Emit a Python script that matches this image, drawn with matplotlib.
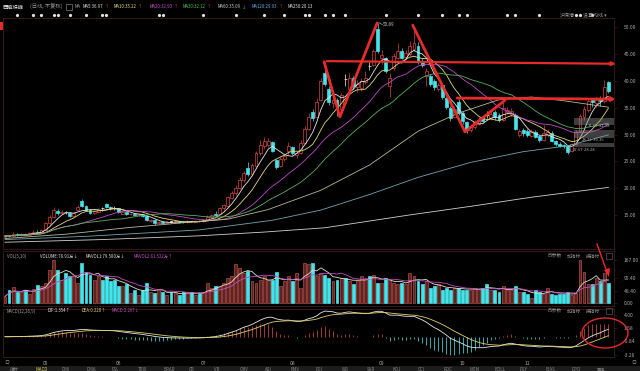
import numpy as np
import pandas as pd
import matplotlib
matplotlib.use("Agg")
import matplotlib.pyplot as plt
from matplotlib.patches import Rectangle, Ellipse

plt.rcParams['font.family'] = ['Noto Sans CJK SC', 'DejaVu Sans']

# daily candles, 2021-04-19 .. 2021-11-26
opens = [10.9, 11.1, 11.0, 11.4, 11.2, 11.5, 11.3, 11.6, 11.9, 11.8,
         12.2, 13.4, 14.6, 15.8, 15.3, 15.5, 15.4, 14.8, 16.0, 17.6,
         16.6, 16.0, 15.3, 15.6, 16.2, 17.0, 16.5, 16.3, 16.2, 15.2,
         15.5, 15.1, 15.2, 15.0, 15.1, 14.8, 13.9, 14.1, 13.4, 13.6,
         13.5, 13.7, 13.7, 13.8, 13.7, 13.6, 13.8, 13.7, 13.9, 13.8,
         14.1, 14.6, 15.2, 15.2, 16.2, 16.6, 18.2, 19.0, 20.0, 21.5,
         23.8, 22.6, 24.2, 26.5, 27.8, 28.0, 28.6, 25.2, 24.2, 25.4,
         27.0, 27.6, 26.2, 26.6, 28.4, 31.0, 34.2, 33.2, 36.5, 41.5,
         38.5, 35.8, 36.4, 34.8, 40.3, 38.5, 40.5, 38.8, 38.6, 39.8,
         42.7, 43.0, 49.6, 44.2, 44.2, 39.0, 42.5, 44.3, 45.6, 44.5,
         45.0, 46.0, 46.5, 43.8, 41.0, 41.0, 40.0, 38.5, 39.3, 36.8,
         35.0, 33.2, 36.0, 34.0, 32.3, 30.8, 31.4, 32.0, 33.2, 33.7,
         33.0, 34.2, 33.6, 32.8, 34.2, 33.8, 33.6, 30.0, 30.8, 30.6,
         29.8, 30.4, 29.8, 29.0, 30.0, 30.3, 28.8, 28.3, 28.0, 27.8,
         27.0, 28.3, 30.6, 33.2, 34.6, 36.4, 35.8, 36.4, 36.2, 39.8]
closes = [11.1, 11.0, 11.4, 11.2, 11.5, 11.3, 11.6, 11.9, 11.7, 12.2,
          13.4, 14.6, 15.9, 15.3, 15.6, 15.5, 14.8, 15.4, 16.5, 16.7,
          16.0, 15.3, 15.7, 16.0, 16.2, 16.5, 16.2, 16.3, 15.5, 15.5,
          15.1, 15.2, 15.0, 15.1, 14.8, 14.0, 14.1, 13.4, 13.6, 13.5,
          13.7, 13.7, 13.8, 13.7, 13.6, 13.8, 13.8, 13.9, 13.8, 14.1,
          14.6, 14.9, 14.9, 16.2, 16.8, 18.3, 19.0, 20.0, 21.6, 22.8,
          22.6, 24.3, 26.5, 28.0, 28.7, 28.8, 27.0, 24.0, 25.4, 26.0,
          27.8, 26.5, 26.6, 28.4, 31.0, 33.2, 33.0, 36.0, 40.0, 39.4,
          36.0, 36.5, 35.0, 37.3, 40.3, 40.5, 39.0, 39.5, 40.0, 40.6,
          42.7, 45.5, 45.6, 44.9, 41.8, 40.5, 44.6, 45.5, 44.3, 45.2,
          46.5, 47.0, 43.5, 43.0, 41.8, 39.5, 38.8, 39.2, 37.0, 35.2,
          33.0, 34.8, 34.0, 32.5, 30.8, 31.6, 32.3, 32.8, 32.6, 33.7,
          33.8, 33.2, 32.8, 35.0, 34.6, 34.4, 31.0, 30.6, 30.2, 29.9,
          30.6, 29.6, 29.0, 30.2, 30.4, 28.8, 28.2, 27.9, 27.8, 26.8,
          28.2, 30.5, 33.5, 34.8, 36.2, 36.0, 36.4, 36.2, 38.8, 38.2]
highs = [11.3, 11.3, 11.8, 11.6, 11.7, 11.7, 11.9, 12.1, 12.1, 12.4,
         13.6, 14.9, 16.5, 16.1, 16.0, 15.8, 15.5, 15.6, 16.8, 17.9,
         16.8, 16.1, 15.9, 16.2, 16.5, 17.3, 16.7, 16.6, 16.3, 15.7,
         15.6, 15.4, 15.3, 15.3, 15.2, 14.9, 14.3, 14.2, 13.8, 13.8,
         13.9, 13.9, 14.0, 13.9, 13.9, 14.0, 13.9, 14.1, 14.0, 14.3,
         14.9, 15.2, 15.7, 16.5, 17.1, 18.5, 19.5, 20.6, 22.0, 23.2,
         24.8, 24.6, 27.0, 29.0, 29.5, 29.3, 28.8, 25.5, 25.8, 26.4,
         28.6, 27.9, 27.0, 28.9, 31.5, 34.0, 34.8, 36.8, 40.6, 43.5,
         39.0, 37.4, 36.8, 37.8, 41.2, 41.5, 41.0, 40.2, 40.6, 41.8,
         43.5, 46.0, 50.89, 45.8, 44.5, 41.5, 45.2, 47.0, 46.2, 45.8,
         47.5, 49.9, 47.2, 44.2, 42.5, 41.3, 40.3, 39.6, 39.5, 37.0,
         35.3, 35.4, 36.6, 34.3, 32.6, 32.0, 32.8, 33.3, 33.6, 34.4,
         34.6, 34.6, 34.0, 36.8, 35.2, 35.0, 34.0, 31.0, 31.2, 31.0,
         31.0, 30.8, 30.0, 31.8, 31.0, 30.6, 29.0, 28.6, 28.3, 28.0,
         28.5, 30.8, 33.9, 35.4, 36.8, 36.9, 37.0, 37.2, 40.2, 40.0]
lows = [10.8, 10.9, 10.9, 11.0, 11.1, 11.2, 11.2, 11.5, 11.6, 11.7,
        12.1, 13.2, 14.4, 15.0, 15.1, 15.1, 14.6, 14.7, 15.9, 16.5,
        15.8, 15.1, 15.1, 15.4, 15.8, 16.3, 16.0, 16.0, 15.3, 15.1,
        15.0, 14.9, 14.9, 14.8, 14.6, 13.8, 13.6, 13.2, 13.3, 13.4,
        13.4, 13.5, 13.5, 13.5, 13.5, 13.5, 13.6, 13.6, 13.6, 13.7,
        14.0, 14.5, 14.8, 15.1, 16.0, 16.5, 18.0, 18.8, 19.8, 21.2,
        22.3, 22.3, 24.0, 26.2, 27.3, 27.6, 26.8, 23.6, 24.0, 25.0,
        26.2, 26.2, 25.6, 26.4, 28.2, 30.8, 32.6, 33.0, 36.2, 39.0,
        35.6, 35.0, 33.4, 33.6, 39.0, 38.0, 38.5, 38.0, 38.2, 39.4,
        42.0, 42.8, 45.2, 43.2, 41.5, 37.0, 42.0, 44.0, 44.0, 44.0,
        44.6, 45.5, 43.2, 42.6, 39.0, 39.0, 38.3, 38.2, 36.6, 34.8,
        32.5, 33.0, 33.6, 32.0, 30.3, 30.5, 31.0, 31.7, 32.3, 33.0,
        32.8, 32.8, 32.4, 32.6, 33.8, 33.5, 30.8, 29.6, 29.8, 29.6,
        29.5, 29.4, 28.6, 28.8, 29.6, 28.6, 27.9, 27.6, 27.5, 26.4,
        26.9, 28.1, 30.4, 32.8, 34.2, 35.2, 35.2, 35.4, 35.8, 37.8]
# volume, 万
volumes = [25, 51, 62, 43, 43, 51, 35, 55, 70, 66,
           78, 129, 168, 129, 90, 117, 103, 103, 78, 156,
           121, 109, 90, 103, 90, 103, 84, 90, 66, 66,
           72, 39, 51, 31, 51, 78, 43, 39, 51, 43,
           31, 43, 39, 31, 43, 39, 43, 31, 39,
           43, 78, 59, 66, 66, 78, 98, 103, 150, 137, 117,
           123, 84, 78, 90, 103, 90, 90, 121, 66, 84,
           103, 84, 117, 59, 156, 150, 156, 103,
           117, 109, 98, 84, 90, 98, 98, 84, 72, 90,
           103, 98, 103, 109, 78, 78, 98, 90, 78, 72,
           78, 72, 117, 103, 84, 72, 84, 59, 66, 72,
           51, 59, 51, 59, 59, 51, 51, 51, 59, 55,
           59, 72, 51, 51, 43, 66, 51, 51, 66, 43,
           43, 35, 20, 51, 43, 35, 59, 35, 31, 35,
           35, 43, 31, 39, 167, 121, 72, 72, 98, 84,
           117, 79]

# long moving averages, read at a few bars (history before the window is not shown)
ma60_idx = [0, 15, 30, 45, 55, 65, 78, 90, 102, 112, 122, 130, 138, 149]
ma60_val = [10.6, 11.4, 12.6, 13.6, 14.2, 16.0, 19.6, 24.3, 30.6, 34.0, 36.5, 37.0, 36.3, 35.1]
ma120_idx = [0, 20, 48, 66, 78, 90, 102, 115, 128, 139, 149]
ma120_val = [10.4, 11.0, 12.2, 14.0, 15.9, 18.8, 22.0, 24.8, 26.8, 27.9, 29.93]
ma250_idx = [0, 24, 48, 64, 79, 100, 115, 130, 149]
ma250_val = [9.9, 10.4, 11.1, 11.8, 12.6, 15.0, 16.6, 18.3, 20.13]

month_pos = [10, 28, 49, 71, 93, 113, 129]
month_labels = ['05', '06', '07', '08', '09', '10', '11']
news_pos = [3, 7, 9, 12, 13, 16, 20, 24, 25, 38, 39, 49, 57, 64, 69, 74, 75,
            79, 81, 84, 94, 102, 108, 112, 114, 124, 126, 132, 141, 142, 145]

price_ticks = [50, 45, 40, 35, 30, 25, 20, 15]
vol_ticks = [167.0, 95.4, 48.4, 0.0]
macd_ticks = [4.00, 1.58, -0.84, -3.26]

RED = '#d8443e'
CYAN = '#45e4ea'
GRID = '#3b1c1c'
LBL = '#a8a8a8'
ANN = '#e82a2a'

W, H = 640, 371
fig = plt.figure(figsize=(6.4, 3.71), dpi=100, facecolor='black')
renderer = fig.canvas.get_renderer()


def box(x0, y0, x1, y1):
    return [x0 / W, 1 - y1 / H, (x1 - x0) / W, (y1 - y0) / H]


def ftxt(x, y, s, color=LBL, size=3.3, ha='left', **kw):
    return fig.text(x / W, 1 - y / H, s, color=color, fontsize=size, ha=ha, va='center', **kw)


def row(y, items, size=3.3, gap=2.0):
    # place header pieces left to right, never overlapping
    end = 0
    for xx, s, col in items:
        xx = max(xx, end + gap)
        t = ftxt(xx, y, s, color=col, size=size)
        end = t.get_window_extent(renderer=renderer).x1


ax = fig.add_axes(box(3, 18, 614, 249))
axv = fig.add_axes(box(3, 251, 614, 306), sharex=ax)
axm = fig.add_axes(box(3, 309, 614, 357), sharex=ax)

for a in (ax, axv, axm):
    a.set_facecolor('black')
    for s in a.spines.values():
        s.set_color(GRID)
        s.set_linewidth(0.6)
    a.yaxis.tick_right()
    a.tick_params(axis='y', colors=GRID, labelcolor=LBL, labelsize=3.6, length=2, width=0.5, pad=5)
    a.tick_params(axis='x', length=0)

n = len(closes)
x = np.arange(n)
o = np.array(opens)
c = np.array(closes)
h = np.array(highs)
l = np.array(lows)
up = c > o
dn = c < o
cols = np.where(up, RED, np.where(dn, CYAN, '#f0f0f0'))

# candles
ax.vlines(x, l, h, colors=cols, lw=0.5, zorder=2)
ax.bar(x, np.maximum(np.abs(c - o), 0.08), bottom=np.minimum(o, c), width=0.72,
       color=np.where(up, 'black', cols), edgecolor=cols, linewidth=0.5, zorder=3)

cs = pd.Series(closes)
ax.plot(x, cs.rolling(5, min_periods=1).mean(), color='#e6e6e6', lw=0.6, zorder=4)
ax.plot(x, cs.rolling(10, min_periods=1).mean(), color='#e6d878', lw=0.6, zorder=4)
ax.plot(x, cs.rolling(20, min_periods=1).mean(), color='#c248c8', lw=0.6, zorder=4)
ax.plot(x, cs.rolling(30, min_periods=1).mean(), color='#58b058', lw=0.6, zorder=4)
ax.plot(ma60_idx, ma60_val, color='#b8b890', lw=0.6, zorder=4)
ax.plot(ma120_idx, ma120_val, color='#6fa6b0', lw=0.6, zorder=4)
ax.plot(ma250_idx, ma250_val, color='#d0d0d0', lw=0.6, zorder=4)

ax.set_xlim(-0.49, 150.4)
ax.set_ylim(8.64, 51.74)
ax.set_yticks(price_ticks)
ax.set_yticklabels(['%.2f' % v for v in price_ticks])
ax.tick_params(axis='x', labelbottom=False)

# peak label
ax.plot([92.3, 93.2], [50.89, 50.5], color='#c8c8c8', lw=0.4, zorder=5)
ax.text(93.4, 50.5, '50.89', color='#c8c8c8', fontsize=3.3, va='center')

# hand-drawn red marks
ax.plot([78.8, 82.7, 91.9], [43.6, 33.3, 50.8], color=ANN, lw=2.0, zorder=6, solid_capstyle='round')
ax.plot([100.7, 113.6, 123.5], [50.4, 30.5, 36.4], color=ANN, lw=2.0, zorder=6, solid_capstyle='round')
ax.annotate('', xy=(151.5, 43.2), xytext=(78.8, 43.7), annotation_clip=False,
            arrowprops=dict(arrowstyle='-|>', color=ANN, lw=1.6, mutation_scale=5), zorder=6)
ax.annotate('', xy=(151.5, 36.6), xytext=(111.0, 36.8), annotation_clip=False,
            arrowprops=dict(arrowstyle='-|>', color=ANN, lw=2.0, mutation_scale=5), zorder=6)

# grey range boxes near the last bars
for y0, y1 in [(31.8, 33.1), (29.35, 30.85), (27.7, 28.4)]:
    ax.add_patch(Rectangle((140.5, y0), 9.8, y1 - y0, color='#8a8a8a', alpha=0.45, lw=0, zorder=5))
ax.text(140.2, 27.2, '27.67-28.28', color='#b0b0b0', fontsize=3.0, va='center', zorder=6)
ax.text(142.5, 29.0, '28.72-30.35', color='#b0b0b0', fontsize=3.0, va='center', zorder=6)
ax.text(144.0, 31.5, '31.60-32.38', color='#b0b0b0', fontsize=3.0, va='center', zorder=6)

# info markers above the price pane
ax.plot(news_pos, [1.013] * len(news_pos), 'o', ms=1.3, color='#e0e0e0',
        transform=ax.get_xaxis_transform(), clip_on=False)

# volume pane
vs = pd.Series(volumes)
axv.bar(x, volumes, width=0.72, color=np.where(up, '#5e2222', CYAN),
        edgecolor=np.where(up, '#b04c44', CYAN), linewidth=0.5)
axv.plot(x, vs.rolling(5, min_periods=1).mean(), color='#e0dcc8', lw=0.6)
axv.plot(x, vs.rolling(10, min_periods=1).mean(), color='#c050c0', lw=0.6)
axv.set_ylim(-11.6, 202)
axv.set_yticks(vol_ticks)
axv.set_yticklabels(['%.2f' % v for v in vol_ticks])
axv.tick_params(axis='x', labelbottom=False)

# MACD pane
ema12 = cs.ewm(span=12, adjust=False).mean()
ema26 = cs.ewm(span=26, adjust=False).mean()
dif = ema12 - ema26
dea = dif.ewm(span=9, adjust=False).mean()
hist = 2 * (dif - dea)
axm.vlines(x, 0, hist, colors=np.where(hist >= 0, '#b8463f', '#3cc8c8'), lw=0.6)
axm.plot(x, dif, color='#e8e8e8', lw=0.6)
axm.plot(x, dea, color='#e0cf6a', lw=0.6)
top = max(dif.max(), hist.max()) * 1.08
bot = min(dif.min(), hist.min()) * 1.08
axm.set_ylim(bot, top)
axm.set_yticks(macd_ticks)
axm.set_yticklabels(['%.2f' % v for v in macd_ticks])
axm.set_xticks(month_pos)
axm.set_xticklabels(month_labels)
axm.tick_params(axis='x', labelcolor=LBL, labelsize=3.6, pad=3)

# header rows
row(7, [(3, '西藏珠峰', '#f0f0f0'), (30, '(日线, 不复权)', '#9a9a9a')], size=3.8)
fig.add_artist(Rectangle((66 / W, 1 - 10 / H), 6 / W, 6 / H, fill=False, ec='#9a9a9a', lw=0.4))
row(7, [(75, 'MA', '#9a9a9a'),
        (83, 'MA5:36.97', '#e0e0e0'), (0, '↑', ANN),
        (114, 'MA10:35.22', '#e6d878'), (0, '↑', ANN),
        (150, 'MA20:32.93', '#d050d8'), (0, '↑', ANN),
        (183, 'MA30:32.12', '#58c058'), (0, '↑', ANN),
        (218, 'MA60:35.09', '#c8c8c8'), (0, '↓', '#3cc8c8'),
        (252, 'MA120:29.93', '#6fa6e0'), (0, '↑', ANN),
        (288, 'MA250:20.13', '#e0e0e0')], size=3.1, gap=1.2)
ftxt(560, 15, '沪深港', color='#9a9a9a', size=3.6)
ftxt(583, 15, '设置均线 ▾', color='#9a9a9a', size=3.6)
fig.add_artist(Rectangle((0, 1 - 30 / H), 3 / W, 8 / H, color=ANN, lw=0))

row(256, [(7, 'VOL(5,10)', '#9a9a9a'), (40, 'VOLUME:78.91万↓', '#e0e0e0'),
          (86, 'MAVOL1:79.580万↓', '#e0dcc8'), (134, 'MAVOL2:81.522万↑', '#c050c0')], size=3.1)
row(311, [(7, 'MACD(12,26,9)', '#9a9a9a'), (48, 'DIF:1.354↑', '#e8e8e8'),
          (82, 'DEA:0.220↑', '#e0cf6a'), (112, 'MACD:2.267↓', '#c050c0')], size=3.1)
for yy in (256, 311):
    ftxt(548, yy, '改参数', color='#8a8a8a', size=3.4)
    ftxt(567, yy, '加指标', color='#8a8a8a', size=3.4)
    ftxt(586, yy, '换指标', color='#8a8a8a', size=3.4)
    fig.add_artist(Rectangle((606 / W, 1 - (yy + 3) / H), 6 / W, 6 / H, fill=False, ec='#6a6a6a', lw=0.4))

# red arrow into the volume pane and circle on MACD
fig.add_artist(plt.Line2D([597 / W, 607 / W], [1 - 244 / H, 1 - 272 / H], color=ANN, lw=1.0))
fig.add_artist(plt.Polygon([[604 / W, 1 - 270 / H], [610 / W, 1 - 268 / H], [609 / W, 1 - 277 / H]],
                           color=ANN, lw=0))
fig.add_artist(Ellipse((605 / W, 1 - 333 / H), 46 / W, 30 / H, fill=False, ec=ANN, lw=1.0))

# bottom tab bar
fig.add_artist(Rectangle((0, 0), 1, 5 / H, color='#1c1c1c', lw=0))
tabs = ['指标', 'MACD', 'DMI', 'DMA', 'FSL', 'TRIX', 'BRAR', 'CR', 'VR', 'OBV', 'ASI',
        'EMV', 'RSI', 'WR', 'SAR', 'KDJ', 'CCI', 'ROC', 'MTM', 'BOLL', 'PSY', 'BIAS', 'DPO', '更多']
for k, t in enumerate(tabs):
    ftxt(10 + k * 25.5, 369.5, t, color='#d8d060' if t == 'MACD' else '#8a8a8a', size=3.2)
ftxt(7, 363, '◎', color='#6a6a6a', size=3.6, ha='center')
ftxt(634, 363, '◎', color='#6a6a6a', size=3.6, ha='center')

fig.savefig('out.png', dpi=100, facecolor='black')
